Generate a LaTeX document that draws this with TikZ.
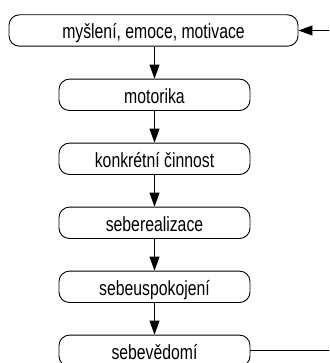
\documentclass[tikz,border=0pt]{standalone}
\usepackage{fontspec}
\setmainfont{Liberation Sans}
\newfontfamily\boxfont[FakeStretch=0.77]{Liberation Sans}
\usetikzlibrary{arrows.meta}
\begin{document}
\begin{tikzpicture}[x=1pt,y=-1pt,
  box/.style={draw=black, line width=0.9pt, rounded corners=10.5pt, minimum height=31.4pt,
    inner sep=0pt, text height=17pt, text depth=0pt,
    font=\boxfont\fontsize{20.5}{24}\selectfont},
  wide/.style={box, minimum width=289pt},
  narrow/.style={box, minimum width=191pt},
  link/.style={draw=black, line width=0.9pt, -{Triangle[length=14pt,width=10pt]}}]
\useasboundingbox (0,0) rectangle (329,363);
\clip (0,0) rectangle (329,363);
\node[wide]   (a) at (153.5,30.5) {myšlení, emoce, motivace};
\node[narrow] (b) at (154.5,94.8) {motorika};
\node[narrow] (c) at (154.5,158.8) {konkrétní činnost};
\node[narrow] (d) at (154.5,222.8) {seberealizace};
\node[narrow] (e) at (154.5,286.8) {sebeuspokojení};
\node[narrow] (f) at (154.5,350.8) {sebevědomí};
\coordinate (r1) at (345,350.8);
\coordinate (r2) at (345,30.5);
\draw[link] (a.south -| b) -- (b);
\draw[link] (b) -- (c);
\draw[link] (c) -- (d);
\draw[link] (d) -- (e);
\draw[link] (e) -- (f);
\draw[link] (f.east) -- (r1) -- (r2) -- (a.east);
\end{tikzpicture}
\end{document}
